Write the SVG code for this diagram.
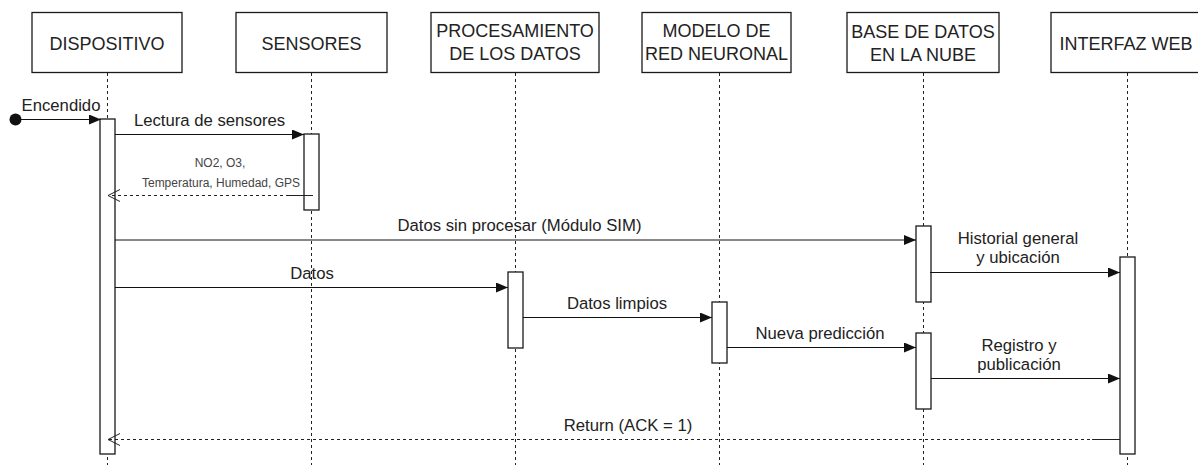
<svg xmlns="http://www.w3.org/2000/svg" width="1198" height="465" viewBox="0 0 1198 465">
  <style>
    .head { fill: #ffffff; stroke: #1a1a1a; stroke-width: 1.3; }
    .head-text { font-family: "Liberation Sans", Arial, sans-serif; font-size: 18px; fill: #222222; text-anchor: middle; }
    .life { stroke: #222222; stroke-width: 1; stroke-dasharray: 3 3; fill: none; }
    .act { fill: #ffffff; stroke: #1a1a1a; stroke-width: 1.3; }
    .msg { stroke: #111111; stroke-width: 1; fill: none; marker-end: url(#block); }
    .ret { stroke: #222222; stroke-width: 1; fill: none; stroke-dasharray: 3 3; marker-end: url(#open); }
    .solid { stroke: #222222; stroke-width: 1; fill: none; }
    .label { font-family: "Liberation Sans", Arial, sans-serif; font-size: 16.7px; fill: #222222; text-anchor: middle; }
    .small { font-family: "Liberation Sans", Arial, sans-serif; font-size: 12px; fill: #444444; text-anchor: middle; }
  </style>
  <defs>
    <marker id="block" markerUnits="userSpaceOnUse" markerWidth="13" markerHeight="11" refX="12" refY="5" orient="auto">
      <path d="M0,0 L12,5 L0,10 Z" fill="#111111"/>
    </marker>
    <marker id="open" markerUnits="userSpaceOnUse" markerWidth="14" markerHeight="14" refX="12" refY="7" orient="auto">
      <path d="M0,1 L12,7 L0,13" fill="none" stroke="#222222" stroke-width="1"/>
    </marker>
  </defs>

  <rect width="1198" height="465" fill="#ffffff"/>

  <!-- lifelines with their header boxes -->
  <g id="dispositivo">
    <line class="life" x1="107.5" y1="73" x2="107.5" y2="465"/>
    <rect class="head" x="32" y="12.5" width="150" height="60"/>
    <text class="head-text" x="107" y="49.5">DISPOSITIVO</text>
  </g>
  <g id="sensores">
    <line class="life" x1="311.5" y1="73" x2="311.5" y2="465"/>
    <rect class="head" x="236" y="12.5" width="151" height="60"/>
    <text class="head-text" x="311.5" y="49.5">SENSORES</text>
  </g>
  <g id="procesamiento">
    <line class="life" x1="515.5" y1="73" x2="515.5" y2="465"/>
    <rect class="head" x="431" y="12.5" width="168" height="60"/>
    <text class="head-text" x="515" y="37.3">PROCESAMIENTO</text>
    <text class="head-text" x="515" y="60">DE LOS DATOS</text>
  </g>
  <g id="modelo">
    <line class="life" x1="719.5" y1="73" x2="719.5" y2="465"/>
    <rect class="head" x="642" y="12.5" width="149" height="60"/>
    <text class="head-text" x="716.5" y="37.3">MODELO DE</text>
    <text class="head-text" x="716.5" y="60">RED NEURONAL</text>
  </g>
  <g id="base-datos">
    <line class="life" x1="923.5" y1="73" x2="923.5" y2="465"/>
    <rect class="head" x="847" y="12.5" width="152" height="60"/>
    <text class="head-text" x="923" y="37.5">BASE DE DATOS</text>
    <text class="head-text" x="923" y="61">EN LA NUBE</text>
  </g>
  <g id="interfaz-web">
    <line class="life" x1="1127.5" y1="73" x2="1127.5" y2="465"/>
    <rect class="head" x="1051" y="12.5" width="152" height="60"/>
    <text class="head-text" x="1126" y="49.5">INTERFAZ WEB</text>
  </g>

  <!-- activation bars -->
  <g id="activations">
    <rect class="act" x="100" y="119" width="15" height="335"/>
    <rect class="act" x="304" y="134" width="15" height="76"/>
    <rect class="act" x="916" y="226" width="15" height="76"/>
    <rect class="act" x="508" y="272" width="15" height="76"/>
    <rect class="act" x="712" y="302" width="15" height="61"/>
    <rect class="act" x="916" y="333" width="15" height="76"/>
    <rect class="act" x="1120" y="257" width="15" height="197"/>
  </g>

  <!-- messages -->
  <g id="connectors">
    <circle cx="15.5" cy="119.5" r="6" fill="#111111"/>
    <line class="msg" x1="15.5" y1="119.5" x2="101" y2="119.5"/>
    <line class="msg" x1="115" y1="134.5" x2="304" y2="134.5"/>
    <line class="ret" x1="313" y1="195.5" x2="108" y2="195.5"/>
    <line class="solid" x1="287" y1="195.5" x2="313" y2="195.5"/>
    <line class="msg" x1="115" y1="240" x2="916" y2="240"/>
    <line class="msg" x1="930" y1="272.5" x2="1120" y2="272.5"/>
    <line class="msg" x1="115" y1="287.5" x2="508" y2="287.5"/>
    <line class="msg" x1="523" y1="317.5" x2="712" y2="317.5"/>
    <line class="msg" x1="727" y1="347.5" x2="916" y2="347.5"/>
    <line class="msg" x1="931" y1="378.5" x2="1120" y2="378.5"/>
    <line class="ret" x1="1120" y1="439.5" x2="108" y2="439.5"/>
    <line class="solid" x1="1092" y1="439.5" x2="1120" y2="439.5"/>
  </g>

  <!-- message labels -->
  <g id="labels">
    <text class="label" x="61" y="111">Encendido</text>
    <text class="label" x="209.5" y="126">Lectura de sensores</text>
    <text class="small" x="220" y="167">NO2, O3,</text>
    <text class="small" x="221" y="186.5">Temperatura, Humedad, GPS</text>
    <text class="label" x="519.5" y="231">Datos sin procesar (Módulo SIM)</text>
    <text class="label" x="1018" y="243.5">Historial general</text>
    <text class="label" x="1018" y="262.5">y ubicación</text>
    <text class="label" x="312" y="279">Datos</text>
    <text class="label" x="617" y="309">Datos limpios</text>
    <text class="label" x="820" y="339">Nueva predicción</text>
    <text class="label" x="1019" y="351">Registro y</text>
    <text class="label" x="1019" y="370">publicación</text>
    <text class="label" x="628" y="431">Return (ACK = 1)</text>
  </g>
</svg>
